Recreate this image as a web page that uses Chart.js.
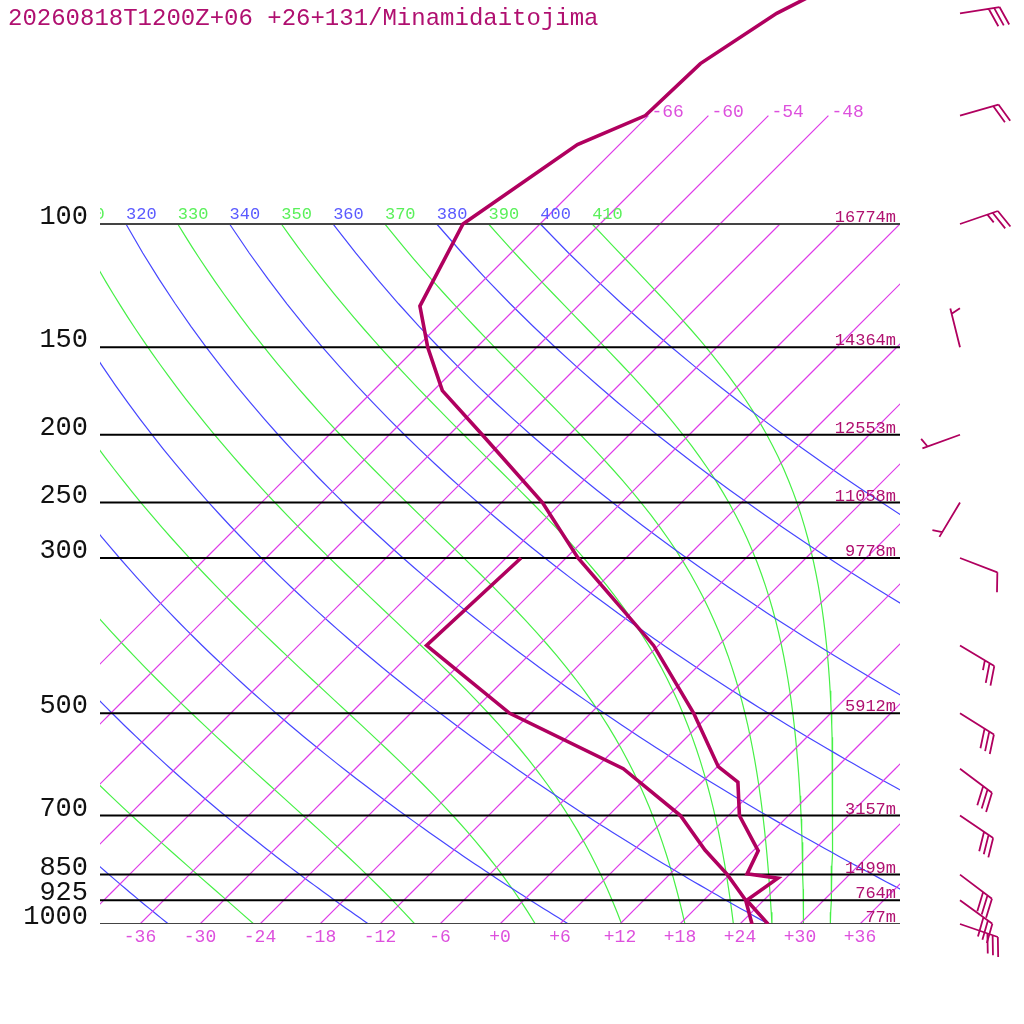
<!DOCTYPE html>
<html>
<head>
<meta charset="utf-8">
<script src="https://cdn.jsdelivr.net/npm/chart.js@4"></script>
<style>
html, body { margin: 0; padding: 0; background: #fff; }
canvas { display: block; }
</style>
</head>
<body>
<canvas id="skewt" width="1024" height="1024"></canvas>
<script>
// skew-T log-p sounding, Minamidaitojima

const titleText = '20260818T1200Z+06 +26+131/Minamidaitojima';

// isobars drawn across the diagram + geopotential heights
const isobarLevels = [1000, 925, 850, 700, 500, 300, 250, 200, 150, 100];
const isobarHeights = ['77m', '764m', '1499m', '3157m', '5912m', '9778m', '11058m', '12553m', '14364m', '16774m'];

// isotherms (deg C); the stratospheric ones reach up to 70 hPa
const isotherms = [-66, -60, -54, -48, -42, -36, -30, -24, -18, -12, -6, 0, 6, 12, 18, 24, 30, 36];
const upperIsotherms = [-66, -60, -54, -48];
const bottomTicks = [-36, -30, -24, -18, -12, -6, 0, 6, 12, 18, 24, 30, 36];

// dry adiabats (blue) and pseudo adiabats (green), K at 100 hPa
const dryThetas = [240, 260, 280, 300, 320, 340, 360, 380, 400];
const moistThetas = [250, 270, 290, 310, 330, 350, 370, 390, 410];
const thetaLabels = [310, 320, 330, 340, 350, 360, 370, 380, 390, 400, 410];

// temperature profile
const tempPressure = [1000, 925, 860, 848, 786, 700, 627, 596, 500, 400, 300, 250, 200, 173, 150, 131, 100, 77, 70, 59, 50, 45];
const tempValues = [26.8, 22.3, 23.2, 19.7, 18.5, 13.1, 9.6, 6.1, -1.7, -12.5, -28.8, -37.9, -50.7, -59.1, -64.9, -69.8, -73.7, -70.2, -66.3, -66.0, -63.4, -60.3];

// dew point profile
const dewPressure = [1000, 925, 850, 784, 700, 600, 500, 400, 300];
const dewValues = [25.2, 22.2, 17.8, 13.1, 7.2, -3.2, -20.1, -35.2, -34.5];

// winds (direction deg, speed kt)
const windPressure = [1000, 925, 850, 700, 600, 500, 400, 300, 250, 200, 150, 100, 70, 50];
const windDir = [109, 126, 127, 124, 127, 122, 121, 111, 211, 250, 346, 71, 74, 81];
const windSpeed = [30, 30, 30, 30, 30, 30, 25, 10, 5, 5, 5, 25, 20, 30];

///////////////////////////////////////

const SKEW = 30.4;               // deg C of skew per ln(p) unit
const P_TOP = 1000 * Math.exp(-924 / 304);
const KAPPA = 0.2857;

const profileColor = '#b0005f';
const textColor = '#b01070';
const isoColor = 'rgb(222, 60, 232)';
const isoLabelColor = '#dd50dd';
const dryColor = '#4646ff';
const moistColor = '#46f046';

function skewX(t, p) {
    return t + SKEW * Math.log(1000 / p);
}

// pseudo adiabatic lapse rate, dT/dlnp
function dTdlnp(T, p) {
    var es = 611.2 * Math.exp(17.67 * (T - 273.15) / (T - 29.65));
    var rs = 0.622 * es / (p - es);
    return (287.04 * T + 2.501e6 * rs) / (1005.7 + 2.501e6 * 2.501e6 * rs * 0.622 / (287.04 * T * T));
}

function dryAdiabat(theta) {
    var pts = [];
    for (var p = 1000; p >= 100; p -= 10) {
        pts.push({x: skewX(theta * Math.pow(p / 1000, KAPPA) - 273.15, p), y: p});
    }
    return pts;
}

function moistAdiabat(theta) {
    // start on the dry adiabat at 100 hPa and walk down to 1000 hPa
    var T = theta * Math.pow(0.1, KAPPA);
    var lnp = Math.log(10000), n = 240, h = (Math.log(100000) - lnp) / n;
    var pts = [];
    for (var i = 0; i <= n; i++) {
        var p = Math.exp(lnp);
        if (i % 4 === 0) pts.push({x: skewX(T - 273.15, p / 100), y: p / 100});
        if (i === n) break;
        var k1 = dTdlnp(T, p);
        var k2 = dTdlnp(T + k1 * h / 2, Math.exp(lnp + h / 2));
        var k3 = dTdlnp(T + k2 * h / 2, Math.exp(lnp + h / 2));
        var k4 = dTdlnp(T + k3 * h, Math.exp(lnp + h));
        T += h * (k1 + 2 * k2 + 2 * k3 + k4) / 6;
        lnp += h;
    }
    return pts;
}

// isotherm split into short pieces so it is drawn as a normal polyline
function isothermLine(t, top) {
    var pts = [];
    for (var p = 1000; p > top; p -= 50) pts.push({x: skewX(t, p), y: p});
    pts.push({x: skewX(t, top), y: top});
    return pts;
}

function lineSet(points, color, width) {
    return {
        data: points,
        showLine: true,
        borderColor: color,
        backgroundColor: color,
        borderWidth: width,
        pointRadius: 0,
        tension: 0,
        fill: false,
        clip: 0
    };
}

var datasets = [];

// profiles on top
datasets.push(lineSet(tempPressure.map(function(p, i) { return {x: skewX(tempValues[i], p), y: p}; }), profileColor, 3.6));
datasets.push(lineSet(dewPressure.map(function(p, i) { return {x: skewX(dewValues[i], p), y: p}; }), profileColor, 3.6));

for (let p of isobarLevels) {
    datasets.push(lineSet([{x: -40, y: p}, {x: 40, y: p}], (p === 1000 || p === 100) ? '#444' : '#000', 2));
}
for (let t of isotherms) {
    let top = upperIsotherms.includes(t) ? 70 : 100;
    datasets.push(lineSet(isothermLine(t, top), isoColor, 1.2));
}
for (let th of dryThetas) datasets.push(lineSet(dryAdiabat(th), dryColor, 1.2));
for (let th of moistThetas) datasets.push(lineSet(moistAdiabat(th), moistColor, 1.2));

// wind barb, shaft points to where the wind blows from
function drawBarb(ctx, x0, y0, dir, speed) {
    var a = dir * Math.PI / 180;
    var ux = Math.sin(a), uy = -Math.cos(a);
    var tx = x0 + ux * 40, ty = y0 + uy * 40;
    var ang = Math.atan2(uy, ux) + 70 * Math.PI / 180;
    var bx = Math.cos(ang), by = Math.sin(ang);
    var full = Math.floor(speed / 10), half = (speed % 10) >= 5;
    var pos = (full === 0 && half) ? 1 : 0;
    ctx.beginPath();
    ctx.moveTo(x0, y0);
    ctx.lineTo(tx, ty);
    for (var i = 0; i < full; i++, pos++) {
        var sx = tx - ux * pos * 5.5, sy = ty - uy * pos * 5.5;
        ctx.moveTo(sx, sy);
        ctx.lineTo(sx + bx * 20, sy + by * 20);
    }
    if (half) {
        var hx = tx - ux * pos * 5.5, hy = ty - uy * pos * 5.5;
        ctx.moveTo(hx, hy);
        ctx.lineTo(hx + bx * 10, hy + by * 10);
    }
    ctx.stroke();
}

const labelsPlugin = {
    id: 'skewtLabels',
    afterDraw(chart) {
        const ctx = chart.ctx;
        const xs = chart.scales.x, ys = chart.scales.y;
        const area = chart.chartArea;
        const px = function(t, p) { return xs.getPixelForValue(skewX(t, p)); };
        ctx.save();

        ctx.fillStyle = textColor;
        ctx.font = '24px "Liberation Mono", monospace';
        ctx.textAlign = 'left';
        ctx.textBaseline = 'alphabetic';
        ctx.fillText(titleText, 8, 25);

        // pressure labels left, heights right
        ctx.font = '27px "Liberation Mono", monospace';
        ctx.fillStyle = '#111';
        ctx.textAlign = 'right';
        isobarLevels.forEach(function(p) {
            ctx.fillText(String(p), 88, ys.getPixelForValue(p));
        });
        ctx.font = '17px "Liberation Mono", monospace';
        ctx.fillStyle = textColor;
        isobarLevels.forEach(function(p, i) {
            ctx.fillText(isobarHeights[i], 896, ys.getPixelForValue(p) - 2);
        });

        // theta labels along 100 hPa, clipped to the plot
        ctx.save();
        ctx.beginPath();
        ctx.rect(area.left, 0, area.right - area.left, area.bottom);
        ctx.clip();
        ctx.textAlign = 'left';
        thetaLabels.forEach(function(th) {
            ctx.fillStyle = (th % 20 === 0) ? '#5a5aff' : '#5af05a';
            ctx.fillText(String(th), px(th * Math.pow(0.1, KAPPA) - 273.15, 100), ys.getPixelForValue(100) - 5);
        });
        ctx.restore();

        // isotherm labels
        ctx.font = '18px "Liberation Mono", monospace';
        ctx.fillStyle = isoLabelColor;
        ctx.textAlign = 'left';
        upperIsotherms.forEach(function(t) {
            ctx.fillText(String(t), px(t, 70) + 3, ys.getPixelForValue(70) + 1);
        });
        ctx.textAlign = 'center';
        bottomTicks.forEach(function(t) {
            ctx.fillText((t < 0 ? '' : '+') + t, px(t, 1000), 942);
        });

        // wind barbs
        ctx.strokeStyle = profileColor;
        ctx.lineWidth = 1.8;
        windPressure.forEach(function(p, i) {
            drawBarb(ctx, 960, ys.getPixelForValue(p), windDir[i], windSpeed[i]);
        });

        ctx.restore();
    }
};

var ctx = document.getElementById('skewt').getContext('2d');
var skewChart = new Chart(ctx, {
    type: 'scatter',
    data: { datasets: datasets },
    options: {
        responsive: false,
        animation: false,
        devicePixelRatio: 1,
        events: [],
        layout: { padding: { left: 100, right: 124, top: 0, bottom: 100 } },
        plugins: {
            legend: { display: false },
            tooltip: { enabled: false }
        },
        scales: {
            x: { type: 'linear', min: -40, max: 40, display: false },
            y: { type: 'logarithmic', min: P_TOP, max: 1000, reverse: true, display: false }
        }
    },
    plugins: [labelsPlugin]
});
</script>
</body>
</html>
